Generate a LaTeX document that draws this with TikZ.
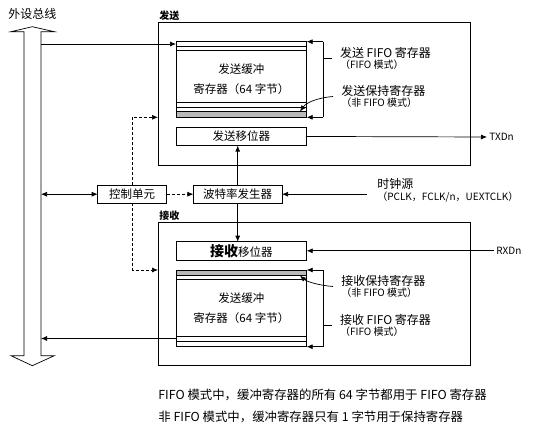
\documentclass[tikz,border=0pt]{standalone}
\usepackage{fontspec}
\setmainfont{Noto Sans CJK SC}
\usetikzlibrary{arrows.meta,calc,positioning}

\begin{document}
\begin{tikzpicture}[x=1pt,y=-1pt,>={Latex[length=6pt,width=5pt]},line width=0.7pt,
	frame/.style={draw,anchor=north west,inner sep=0pt,outer sep=0pt,minimum width=312.7pt,minimum height=143pt},
	reg/.style={draw,anchor=north west,inner sep=0pt,outer sep=0pt,minimum width=130.7pt,align=center,font=\fontsize{11.5}{20}\selectfont},
	unit/.style={draw,inner sep=0pt,outer sep=0pt,minimum height=18.3pt,font=\fontsize{11.5}{12}\selectfont},
	tag/.style={font=\fontsize{10}{10}\selectfont\bfseries,anchor=south west,inner sep=1pt},
	note/.style={anchor=west,align=left,inner xsep=8pt,font=\fontsize{12}{11.5}\selectfont},
	sub/.style={font=\fontsize{10}{11}\selectfont},
	dsh/.style={dash pattern=on 3pt off 2pt}]
\useasboundingbox (0,0) rectangle (558,436);

% peripheral bus
\draw[fill=white] (32.3,26.7) -- (54.3,31.7) -- (41,31.7) -- (41,355.7) -- (54.3,355.7) -- (32.3,365.7) -- (11,355.7) -- (24,355.7) -- (24,31.7) -- (11,31.7) -- cycle;
\node[font=\fontsize{12}{12}\selectfont] (bus) at (32.5,14) {外设总线};
\coordinate (txin) at (41,44);
\coordinate (rxout) at (41,338.5);

% transmit side
\node[frame] (txframe) at (158,22) {};
\node[tag] (txtag) at (txframe.north west) {发送};
\node[reg,minimum height=75.6pt] (txbuf) at (176,41.7) {发送缓冲\\寄存器（64 字节）};
\foreach \d in {4.3,9} \draw ($(txbuf.north west)+(0,\d)$) -- ($(txbuf.north east)+(0,\d)$);
\foreach \d in {14.6,10} \draw ($(txbuf.south west)+(0,-\d)$) -- ($(txbuf.south east)+(0,-\d)$);
\filldraw[fill=gray!55] ($(txbuf.south west)+(0,-5.6)$) rectangle (txbuf.south east);
\node[unit,anchor=north west,minimum width=130.7pt] (txshift) at (176,127.3) {发送移位器};

% receive side
\node[frame] (rxframe) at (158,222) {};
\node[tag] (rxtag) at (rxframe.north west) {接收};
\node[unit,anchor=north west,minimum width=130.7pt] (rxshift) at (176,241.7) {{\fontsize{14}{14}\selectfont\bfseries 接收}移位器};
\node[reg,minimum height=76.7pt] (rxbuf) at (176,270) {发送缓冲\\寄存器（64 字节）};
\filldraw[fill=gray!55] (rxbuf.north west) rectangle ($(rxbuf.north east)+(0,5)$);
\draw ($(rxbuf.north west)+(0,9.3)$) -- ($(rxbuf.north east)+(0,9.3)$);
\foreach \d in {10,5.7} \draw ($(rxbuf.south west)+(0,-\d)$) -- ($(rxbuf.south east)+(0,-\d)$);

% control and clock
\node[unit,minimum width=69pt] (ctrl) at (132.2,194.2) {控制单元};
\node[unit,minimum width=88.7pt] (baud) at (237.7,194.2) {波特率发生器};
\node[note,inner xsep=10pt] (clk) at (367,190.5) {时钟源\\{\fontsize{10}{11}\selectfont（PCLK，FCLK/n，UEXTCLK）}};

% pins
\node[sub,anchor=west,inner sep=2pt] (txd) at (487,137) {TXDn};
\node[sub,anchor=west,inner sep=2pt] (rxd) at (494,250.8) {RXDn};

% register notes
\node[note] (txfifo) at (331.7,58.5) {发送 FIFO 寄存器\\{\fontsize{10}{11}\selectfont（FIFO 模式）}};
\node[note] (txhold) at (333,96.5) {发送保持寄存器\\{\fontsize{10}{11}\selectfont（非 FIFO 模式）}};
\node[note] (rxhold) at (333,286.5) {接收保持寄存器\\{\fontsize{10}{11}\selectfont（非 FIFO 模式）}};
\node[note] (rxfifo) at (331.7,325.5) {接收 FIFO 寄存器\\{\fontsize{10}{11}\selectfont（FIFO 模式）}};
\coordinate (txbr) at (323.3,0);
\coordinate (rxbr) at (323.3,0);

% connectors
\draw[->] (txin) -- (txin -| txbuf.west);
\draw[->] (rxout -| rxbuf.west) -- (rxout);
\draw[<->] (ctrl.west -| txin) -- (ctrl.west);
\draw[->,dsh] (ctrl.east) -- (baud.west);
\draw[->,dsh] (ctrl.north) |- (txbuf.south -| txframe.west);
\draw[->,dsh] (ctrl.south) |- (rxbuf.north -| rxframe.west);
\draw[->] (baud.north) -- (baud.north |- txshift.south);
\draw[->] (baud.south) -- (baud.south |- rxshift.north);
\draw[->] (clk.west |- baud.east) -- (baud.east);
\draw[->] (txshift.east) -- (txd.west);
\draw[->] (rxd.west) -- (rxd.west -| rxshift.east);

% brackets
\draw (txbr |- txbuf.north) -- (txbr |- txbuf.south);
\draw[->] (txbr |- txbuf.north) -- (txbuf.north east);
\draw[->] (txbr |- txbuf.south) -- (txbuf.south east);
\draw (txbr |- txfifo.west) -- (txfifo.west);
\draw[->] (txhold.west) .. controls (316,98) and (306,103) .. (300,111.5);
\draw (rxbr |- rxbuf.north) -- (rxbr |- rxbuf.south);
\draw[->] (rxbr |- rxbuf.north) -- (rxbuf.north east);
\draw[->] (rxbr |- rxbuf.south) -- (rxbuf.south east);
\draw (rxbr |- rxfifo.west) -- (rxfifo.west);
\draw[->] (rxhold.west) .. controls (316,285) and (306,281) .. (300,275.7);

% footnotes
\node[anchor=west,inner sep=0pt,font=\fontsize{12.4}{13}\selectfont] (fn1) at (158,395) {FIFO 模式中，缓冲寄存器的所有 64 字节都用于 FIFO 寄存器};
\node[anchor=west,inner sep=0pt,font=\fontsize{12.4}{13}\selectfont] (fn2) at (158,417) {非 FIFO 模式中，缓冲寄存器只有 1 字节用于保持寄存器};
\end{tikzpicture}
\end{document}
